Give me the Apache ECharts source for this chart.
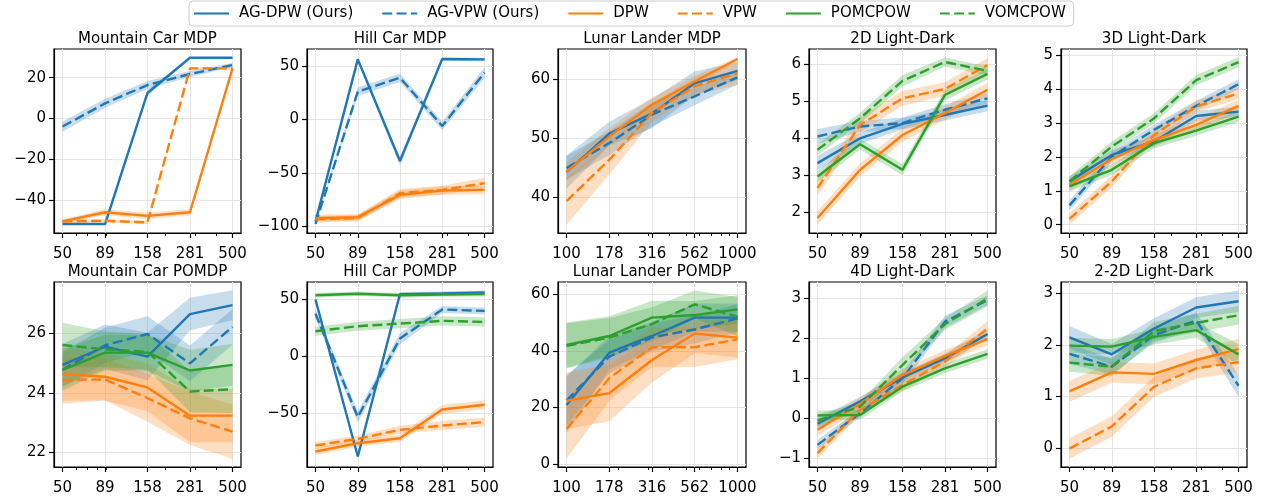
<!DOCTYPE html>
<html><head><meta charset="utf-8">
<script src="https://cdn.jsdelivr.net/npm/echarts@6/dist/echarts.min.js"></script>
<style>html,body{margin:0;padding:0;background:#fff}#c{width:1261px;height:500px}</style>
</head><body><div id="c"></div><script>
const FONT = 'DejaVu Sans';
const methodNames = ['AG-DPW (Ours)', 'AG-VPW (Ours)', 'DPW', 'VPW', 'POMCPOW', 'VOMCPOW'];
const methodColors = ['#1f77b4', '#1f77b4', '#ff7f0e', '#ff7f0e', '#2ca02c', '#2ca02c'];
const methodDashed = [false, true, false, true, false, true];

// x tick values (log-spaced simulation counts)
const stepsTicks = [50, 89, 158, 281, 500];
const lunarTicks = [100, 178, 316, 562, 1000];
const stepsMinor = [60, 70, 80, 90, 200, 300, 400];
const lunarMinor = [200, 300, 400, 500, 600, 700, 800, 900];

// ---- Mountain Car MDP ----
const mcMdpYTicks = [-40, -20, 0, 20];
const mcMdpAgDpw = [-51.9, -51.9, 12.5, 29.8, 29.8];
const mcMdpAgDpwErr = [0.4, 0.4, 1.5, 0.3, 0.3];
const mcMdpAgVpw = [-4.0, 7.4, 16.4, 21.8, 26.2];
const mcMdpAgVpwErr = [2.5, 2.2, 2.0, 1.5, 1.0];
const mcMdpDpw = [-50.6, -46.1, -47.9, -46.1, 24.6];
const mcMdpDpwErr = [1.0, 1.5, 1.5, 1.5, 0.6];
const mcMdpVpw = [-50.6, -50.3, -51.1, 24.6, 24.6];
const mcMdpVpwErr = [0.8, 0.8, 0.8, 0.6, 0.6];

// ---- Hill Car MDP ----
const hcMdpYTicks = [-100, -50, 0, 50];
const hcMdpAgDpw = [-95.5, 56.2, -38.8, 56.5, 56.2];
const hcMdpAgDpwErr = [1.5, 1.9, 4, 1.5, 1.5];
const hcMdpAgVpw = [-97.6, 26.0, 39.1, -6.1, 43.8];
const hcMdpAgVpwErr = [0.8, 4, 4, 4, 5];
const hcMdpDpw = [-92.4, -91.4, -70.5, -66.5, -65.9];
const hcMdpDpwErr = [3, 3, 4, 4, 4];
const hcMdpVpw = [-93.3, -92.4, -69.0, -65.9, -59.6];
const hcMdpVpwErr = [3, 3, 4, 4, 5];

// ---- Lunar Lander MDP ----
const llMdpYTicks = [40, 50, 60];
const llMdpAgDpw = [44.3, 50.8, 54.2, 59.3, 61.4];
const llMdpAgDpwErr = [2.8, 2, 2.5, 2, 1.5];
const llMdpAgVpw = [45.0, 49.2, 54.0, 57.1, 60.3];
const llMdpAgVpwErr = [2, 2, 2, 1.5, 1.2];
const llMdpDpw = [44.4, 50.3, 55.7, 59.6, 63.4];
const llMdpDpwErr = [1.5, 1.5, 1.2, 1, 0.3];
const llMdpVpw = [39.4, 46.4, 54.3, 58.8, 61.0];
const llMdpVpwErr = [4, 2.5, 1.5, 1.5, 2];

// ---- 2D Light-Dark ----
const ld2YTicks = [2, 3, 4, 5, 6];
const ld2AgDpw = [3.33, 4.00, 4.39, 4.63, 4.88];
const ld2AgDpwErr = [0.2, 0.15, 0.15, 0.15, 0.15];
const ld2AgVpw = [4.05, 4.32, 4.41, 4.77, 5.08];
const ld2AgVpwErr = [0.2, 0.15, 0.15, 0.15, 0.15];
const ld2Dpw = [1.85, 3.15, 4.09, 4.68, 5.31];
const ld2DpwErr = [0.18, 0.18, 0.18, 0.18, 0.18];
const ld2Vpw = [2.66, 4.36, 5.08, 5.33, 5.98];
const ld2VpwErr = [0.22, 0.2, 0.2, 0.18, 0.18];
const ld2Pomcpow = [2.97, 3.84, 3.15, 5.17, 5.74];
const ld2PomcpowErr = [0.15, 0.15, 0.15, 0.15, 0.15];
const ld2Vomcpow = [3.69, 4.54, 5.55, 6.06, 5.82];
const ld2VomcpowErr = [0.15, 0.15, 0.15, 0.12, 0.12];

// ---- 3D Light-Dark ----
const ld3YTicks = [0, 1, 2, 3, 4, 5];
const ld3AgDpw = [1.28, 2.06, 2.46, 3.21, 3.34];
const ld3AgDpwErr = [0.15, 0.15, 0.15, 0.15, 0.15];
const ld3AgVpw = [0.57, 2.01, 2.80, 3.51, 4.15];
const ld3AgVpwErr = [0.15, 0.15, 0.15, 0.15, 0.15];
const ld3Dpw = [1.18, 1.94, 2.50, 2.95, 3.51];
const ld3DpwErr = [0.18, 0.18, 0.18, 0.18, 0.18];
const ld3Vpw = [0.17, 1.28, 2.65, 3.49, 3.88];
const ld3VpwErr = [0.17, 0.17, 0.17, 0.17, 0.17];
const ld3Pomcpow = [1.13, 1.62, 2.41, 2.78, 3.19];
const ld3PomcpowErr = [0.15, 0.15, 0.15, 0.15, 0.15];
const ld3Vomcpow = [1.28, 2.31, 3.14, 4.27, 4.80];
const ld3VomcpowErr = [0.15, 0.15, 0.15, 0.15, 0.15];

// ---- Mountain Car POMDP ----
const mcPoYTicks = [22, 24, 26];
const mcPoAgDpw = [24.94, 25.55, 25.22, 26.65, 26.95];
const mcPoAgDpwErr = [0.7, 0.75, 0.8, 0.55, 0.5];
const mcPoAgVpw = [24.77, 25.60, 25.98, 24.99, 26.22];
const mcPoAgVpwErr = [0.6, 0.6, 0.6, 0.6, 0.6];
const mcPoDpw = [24.63, 24.54, 24.18, 23.23, 23.23];
const mcPoDpwErr = [0.9, 0.8, 0.8, 0.9, 0.9];
const mcPoVpw = [24.43, 24.45, 23.82, 23.14, 22.69];
const mcPoVpwErr = [0.8, 0.7, 0.8, 0.9, 0.91];
const mcPoPomcpow = [24.77, 25.35, 25.35, 24.75, 24.94];
const mcPoPomcpowErr = [0.7, 0.6, 0.6, 0.7, 0.7];
const mcPoVomcpow = [25.61, 25.46, 25.38, 24.04, 24.12];
const mcPoVomcpowErr = [0.75, 0.6, 0.6, 0.7, 0.8];

// ---- Hill Car POMDP ----
const hcPoYTicks = [-50, 0, 50];
const hcPoAgDpw = [50.0, -88.2, 54.7, 55.3, 56.2];
const hcPoAgDpwErr = [1.8, 1.8, 1.8, 1.8, 1.8];
const hcPoAgVpw = [37.6, -53.5, 15.6, 41.2, 40.0];
const hcPoAgVpwErr = [4, 5, 5, 3, 3];
const hcPoDpw = [-83.8, -76.5, -72.1, -46.8, -42.6];
const hcPoDpwErr = [3, 3, 3, 4, 4];
const hcPoVpw = [-78.5, -72.6, -64.7, -60.9, -57.9];
const hcPoVpwErr = [3, 3, 3.5, 4, 4];
const hcPoPomcpow = [53.8, 55.0, 53.8, 54.4, 54.7];
const hcPoPomcpowErr = [2, 2, 2, 2, 2];
const hcPoVomcpow = [22.1, 26.5, 28.8, 31.2, 30.3];
const hcPoVomcpowErr = [4, 4, 4, 4, 4];

// ---- Lunar Lander POMDP ----
const llPoYTicks = [0, 20, 40, 60];
const llPoAgDpw = [20.9, 39.4, 45.3, 51.8, 51.8];
const llPoAgDpwErr = [10, 6, 5, 5, 5];
const llPoAgVpw = [22.5, 38.0, 44.8, 47.6, 51.5];
const llPoAgVpwErr = [9, 6, 5, 5, 5];
const llPoDpw = [22.4, 25.1, 36.8, 46.2, 44.7];
const llPoDpwErr = [10, 10, 8, 7, 7];
const llPoVpw = [12.4, 30.4, 41.3, 41.3, 44.1];
const llPoVpwErr = [10.5, 8, 7, 7, 7];
const llPoPomcpow = [42.1, 45.3, 51.8, 52.7, 54.7];
const llPoPomcpowErr = [8, 7, 6, 5, 5];
const llPoVomcpow = [41.8, 44.7, 49.5, 56.5, 52.1];
const llPoVomcpowErr = [8, 7, 6, 4.9, 7];

// ---- 4D Light-Dark ----
const ld4YTicks = [-1, 0, 1, 2, 3];
const ld4AgDpw = [-0.14, 0.42, 1.02, 1.50, 2.11];
const ld4AgDpwErr = [0.12, 0.12, 0.12, 0.12, 0.12];
const ld4AgVpw = [-0.67, 0.125, 1.00, 2.42, 2.96];
const ld4AgVpwErr = [0.12, 0.1, 0.15, 0.15, 0.12];
const ld4Dpw = [-0.29, 0.36, 1.08, 1.56, 1.98];
const ld4DpwErr = [0.15, 0.15, 0.15, 0.15, 0.15];
const ld4Vpw = [-0.875, 0.21, 0.83, 1.42, 2.25];
const ld4VpwErr = [0.14, 0.12, 0.15, 0.15, 0.18];
const ld4Pomcpow = [0.07, 0.08, 0.79, 1.25, 1.61];
const ld4PomcpowErr = [0.12, 0.12, 0.12, 0.12, 0.12];
const ld4Vomcpow = [-0.06, 0.29, 1.33, 2.36, 3.00];
const ld4VomcpowErr = [0.15, 0.12, 0.2, 0.15, 0.2];

// ---- 2-2D Light-Dark ----
const ld22YTicks = [0, 1, 2, 3];
const ld22AgDpw = [2.15, 1.82, 2.32, 2.73, 2.85];
const ld22AgDpwErr = [0.22, 0.2, 0.2, 0.2, 0.21];
const ld22AgVpw = [1.83, 1.58, 2.19, 2.48, 1.21];
const ld22AgVpwErr = [0.2, 0.15, 0.15, 0.15, 0.22];
const ld22Dpw = [1.10, 1.47, 1.44, 1.71, 1.92];
const ld22DpwErr = [0.2, 0.2, 0.2, 0.2, 0.2];
const ld22Vpw = [-0.01, 0.42, 1.19, 1.55, 1.67];
const ld22VpwErr = [0.2, 0.2, 0.2, 0.2, 0.2];
const ld22Pomcpow = [1.99, 1.97, 2.16, 2.29, 1.82];
const ld22PomcpowErr = [0.15, 0.15, 0.15, 0.15, 0.2];
const ld22Vomcpow = [1.66, 1.58, 2.27, 2.43, 2.58];
const ld22VomcpowErr = [0.18, 0.18, 0.18, 0.18, 0.18];

const panels = [
  {title: 'Mountain Car MDP', x: stepsTicks, minor: stepsMinor, yTicks: mcMdpYTicks, yMin: -56.3, yMax: 34.1,
   lines: [[mcMdpAgDpw, mcMdpAgDpwErr], [mcMdpAgVpw, mcMdpAgVpwErr], [mcMdpDpw, mcMdpDpwErr], [mcMdpVpw, mcMdpVpwErr], null, null]},
  {title: 'Hill Car MDP', x: stepsTicks, minor: stepsMinor, yTicks: hcMdpYTicks, yMin: -106.2, yMax: 65.9,
   lines: [[hcMdpAgDpw, hcMdpAgDpwErr], [hcMdpAgVpw, hcMdpAgVpwErr], [hcMdpDpw, hcMdpDpwErr], [hcMdpVpw, hcMdpVpwErr], null, null]},
  {title: 'Lunar Lander MDP', x: lunarTicks, minor: lunarMinor, yTicks: llMdpYTicks, yMin: 34.0, yMax: 65.1,
   lines: [[llMdpAgDpw, llMdpAgDpwErr], [llMdpAgVpw, llMdpAgVpwErr], [llMdpDpw, llMdpDpwErr], [llMdpVpw, llMdpVpwErr], null, null]},
  {title: '2D Light-Dark', x: stepsTicks, minor: stepsMinor, yTicks: ld2YTicks, yMin: 1.445, yMax: 6.41,
   lines: [[ld2AgDpw, ld2AgDpwErr], [ld2AgVpw, ld2AgVpwErr], [ld2Dpw, ld2DpwErr], [ld2Vpw, ld2VpwErr], [ld2Pomcpow, ld2PomcpowErr], [ld2Vomcpow, ld2VomcpowErr]]},
  {title: '3D Light-Dark', x: stepsTicks, minor: stepsMinor, yTicks: ld3YTicks, yMin: -0.245, yMax: 5.19,
   lines: [[ld3AgDpw, ld3AgDpwErr], [ld3AgVpw, ld3AgVpwErr], [ld3Dpw, ld3DpwErr], [ld3Vpw, ld3VpwErr], [ld3Pomcpow, ld3PomcpowErr], [ld3Vomcpow, ld3VomcpowErr]]},
  {title: 'Mountain Car POMDP', x: stepsTicks, minor: stepsMinor, yTicks: mcPoYTicks, yMin: 21.5, yMax: 27.73,
   lines: [[mcPoAgDpw, mcPoAgDpwErr], [mcPoAgVpw, mcPoAgVpwErr], [mcPoDpw, mcPoDpwErr], [mcPoVpw, mcPoVpwErr], [mcPoPomcpow, mcPoPomcpowErr], [mcPoVomcpow, mcPoVomcpowErr]]},
  {title: 'Hill Car POMDP', x: stepsTicks, minor: stepsMinor, yTicks: hcPoYTicks, yMin: -97.4, yMax: 65.4,
   lines: [[hcPoAgDpw, hcPoAgDpwErr], [hcPoAgVpw, hcPoAgVpwErr], [hcPoDpw, hcPoDpwErr], [hcPoVpw, hcPoVpwErr], [hcPoPomcpow, hcPoPomcpowErr], [hcPoVomcpow, hcPoVomcpowErr]]},
  {title: 'Lunar Lander POMDP', x: lunarTicks, minor: lunarMinor, yTicks: llPoYTicks, yMin: -1.06, yMax: 64.4,
   lines: [[llPoAgDpw, llPoAgDpwErr], [llPoAgVpw, llPoAgVpwErr], [llPoDpw, llPoDpwErr], [llPoVpw, llPoVpwErr], [llPoPomcpow, llPoPomcpowErr], [llPoVomcpow, llPoVomcpowErr]]},
  {title: '4D Light-Dark', x: stepsTicks, minor: stepsMinor, yTicks: ld4YTicks, yMin: -1.225, yMax: 3.415,
   lines: [[ld4AgDpw, ld4AgDpwErr], [ld4AgVpw, ld4AgVpwErr], [ld4Dpw, ld4DpwErr], [ld4Vpw, ld4VpwErr], [ld4Pomcpow, ld4PomcpowErr], [ld4Vomcpow, ld4VomcpowErr]]},
  {title: '2-2D Light-Dark', x: stepsTicks, minor: stepsMinor, yTicks: ld22YTicks, yMin: -0.368, yMax: 3.225,
   lines: [[ld22AgDpw, ld22AgDpwErr], [ld22AgVpw, ld22AgVpwErr], [ld22Dpw, ld22DpwErr], [ld22Vpw, ld22VpwErr], [ld22Pomcpow, ld22PomcpowErr], [ld22Vomcpow, ld22VomcpowErr]]}
];

// layout
const colLeft = [54, 307, 558, 809, 1061];
const colWidth = [187, 186, 188, 187, 186];
const rowTop = [49, 282];
const rowHeight = [184, 185];

const bandAlpha = 0.25;
function rgba(hex, a) {
  const r = parseInt(hex.slice(1, 3), 16), g = parseInt(hex.slice(3, 5), 16), b = parseInt(hex.slice(5, 7), 16);
  return 'rgba(' + r + ',' + g + ',' + b + ',' + a + ')';
}
const lg = v => Math.log10(v);
const minusFmt = v => String(Math.round(v * 1000) / 1000).replace('-', '\u2212');

const grids = [], xAxes = [], yAxes = [], titles = [], series = [];
const axisColor = '#000';
const labelStyle = {color: '#000', fontSize: 15, fontFamily: FONT};

panels.forEach((p, i) => {
  const col = i % 5, row = Math.floor(i / 5);
  grids.push({left: colLeft[col], top: rowTop[row], width: colWidth[col], height: rowHeight[row],
    show: true, borderColor: '#000', borderWidth: 1.2, backgroundColor: '#fff', containLabel: false});
  const lx0 = lg(p.x[0]), lx1 = lg(p.x[p.x.length - 1]), span = lx1 - lx0;
  const xmin = lx0 - 0.05 * span, xmax = lx1 + 0.05 * span;
  const majorVals = p.x.map(lg), minorVals = p.minor.map(lg);
  xAxes.push({
    type: 'value', gridIndex: i, position: 'bottom', min: xmin, max: xmax,
    axisLine: {show: true, onZero: false, lineStyle: {color: axisColor, width: 1.2}},
    axisTick: {show: true, customValues: majorVals, length: 5, lineStyle: {color: axisColor, width: 1.2}},
    axisLabel: {show: true, customValues: majorVals, margin: 14, ...labelStyle,
      formatter: v => String(Math.round(Math.pow(10, v)))},
    splitLine: {show: true, lineStyle: {color: '#e6e6e6', width: 1}}
  });
  xAxes.push({
    type: 'value', gridIndex: i, position: 'bottom', min: xmin, max: xmax,
    axisLine: {show: false, onZero: false},
    axisTick: {show: true, customValues: minorVals, length: 3, lineStyle: {color: axisColor, width: 0.9}},
    axisLabel: {show: false},
    splitLine: {show: false}
  });
  yAxes.push({
    type: 'value', gridIndex: i, min: p.yMin, max: p.yMax,
    axisLine: {show: true, lineStyle: {color: axisColor, width: 1.2}},
    axisTick: {show: true, customValues: p.yTicks, length: 5, lineStyle: {color: axisColor, width: 1.2}},
    axisLabel: {show: true, customValues: p.yTicks, margin: 8, ...labelStyle, formatter: minusFmt},
    splitLine: {show: true, lineStyle: {color: '#e6e6e6', width: 1}}
  });
  titles.push({text: p.title, left: colLeft[col] + colWidth[col] / 2, top: rowTop[row] - 17, textAlign: 'center', padding: 0,
    textStyle: {fontSize: 15, fontWeight: 'normal', color: '#000', fontFamily: FONT}});

  p.lines.forEach((ln, m) => {
    if (!ln) return;
    const mean = ln[0], err = ln[1];
    const color = methodColors[m];
    series.push({
      type: 'custom', xAxisIndex: 2 * i, yAxisIndex: i, silent: true, z: 2,
      data: p.x.map((n, k) => [lg(n), mean[k] - err[k], mean[k] + err[k]]),
      encode: {x: 0, y: [1, 2]},
      renderItem: function (params, api) {
        if (params.dataIndexInside !== 0) return null;
        const cnt = params.dataInsideLength;
        const up = [], lo = [];
        for (let k = 0; k < cnt; k++) {
          up.push(api.coord([api.value(0, k), api.value(2, k)]));
          lo.push(api.coord([api.value(0, k), api.value(1, k)]));
        }
        return {type: 'polygon', shape: {points: up.concat(lo.reverse())}, style: {fill: rgba(color, bandAlpha), stroke: null}};
      }
    });
  });
  p.lines.forEach((ln, m) => {
    if (!ln) return;
    const mean = ln[0];
    series.push({
      type: 'line', name: methodNames[m], xAxisIndex: 2 * i, yAxisIndex: i, z: 3,
      data: p.x.map((n, k) => [lg(n), mean[k]]),
      symbol: 'none', showSymbol: false,
      lineStyle: {color: methodColors[m], width: 2.4, type: methodDashed[m] ? [10, 4.3] : 'solid', cap: 'butt'},
      itemStyle: {color: methodColors[m]}
    });
  });
});

const chart = echarts.init(document.getElementById('c'), null, {renderer: 'canvas'});
chart.setOption({
  animation: false,
  backgroundColor: '#fff',
  title: titles,
  legend: {
    top: 1, left: 189, data: methodNames, itemWidth: 35, itemHeight: 14, itemGap: 28,
    textStyle: {fontSize: 15, fontFamily: FONT, color: '#000', padding: [0, 0, 0, 5]},
    itemStyle: {opacity: 0},
    borderColor: '#cccccc', borderWidth: 1, borderRadius: 4, padding: [5, 8, 5, 4],
    backgroundColor: 'rgba(255,255,255,0.8)', selectedMode: false
  },
  grid: grids, xAxis: xAxes, yAxis: yAxes, series: series
});
</script></body></html>
